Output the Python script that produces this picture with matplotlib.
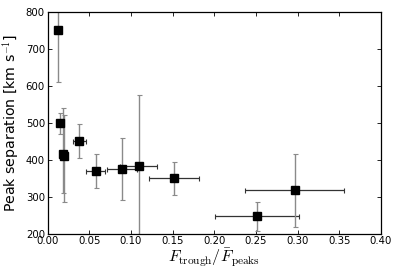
import matplotlib
matplotlib.use("Agg")
import matplotlib.pyplot as plt

# ==========================
# Data
# ==========================
flux_ratio = [0.0124, 0.0151, 0.0188, 0.0192, 0.0379, 0.0579, 0.0891, 0.1091, 0.1514, 0.2510, 0.2965]
flux_ratio_err = [0.0, 0.0, 0.0, 0.0, 0.0076, 0.0114, 0.0184, 0.0222, 0.0304, 0.0505, 0.0595]
peak_sep = [752, 499, 416, 411, 451, 370, 375, 382, 350, 248, 318]
peak_sep_err_low = [141, 29, 106, 124, 45, 45, 83, 193, 45, 40, 99]
peak_sep_err_high = [141, 27, 124, 111, 45, 45, 83, 193, 44, 39, 98]

x_ticks = [0.00, 0.05, 0.10, 0.15, 0.20, 0.25, 0.30, 0.35, 0.40]
y_ticks = [200, 300, 400, 500, 600, 700, 800]

plt.rcParams["mathtext.fontset"] = "cm"
plt.rcParams["font.family"] = "DejaVu Sans"

fig = plt.figure(figsize=(3.99, 2.79), dpi=100)
ax = fig.add_axes([0.1196, 0.1624, 0.8354, 0.7946])

# horizontal errors (dark) and vertical errors (grey)
ax.errorbar(
    flux_ratio, peak_sep,
    xerr=flux_ratio_err,
    fmt="none", ecolor="#333333", elinewidth=0.9, capsize=1.8, capthick=0.8
)
ax.errorbar(
    flux_ratio, peak_sep,
    yerr=[peak_sep_err_low, peak_sep_err_high],
    fmt="none", ecolor="#8a8a8a", elinewidth=1.0, capsize=1.8, capthick=0.8
)
ax.plot(flux_ratio, peak_sep, "s", color="black", markersize=5.3, zorder=5)

ax.set_xlim(0, 0.40)
ax.set_ylim(200, 800)
ax.set_xticks(x_ticks)
ax.set_xticklabels(["%.2f" % t for t in x_ticks])
ax.set_yticks(y_ticks)

ax.tick_params(direction="in", top=True, right=True, length=3, width=0.6,
               labelsize=7.3, pad=2)
for spine in ax.spines.values():
    spine.set_linewidth(0.9)

ax.set_xlabel(r"$F_{\rm trough}/\bar{F}_{\rm peaks}$", fontsize=11.6, labelpad=0)
ax.set_ylabel(r"Peak separation [km s$^{-1}$]", fontsize=10.2, labelpad=2)

fig.savefig("out.png", dpi=100)
plt.close()
